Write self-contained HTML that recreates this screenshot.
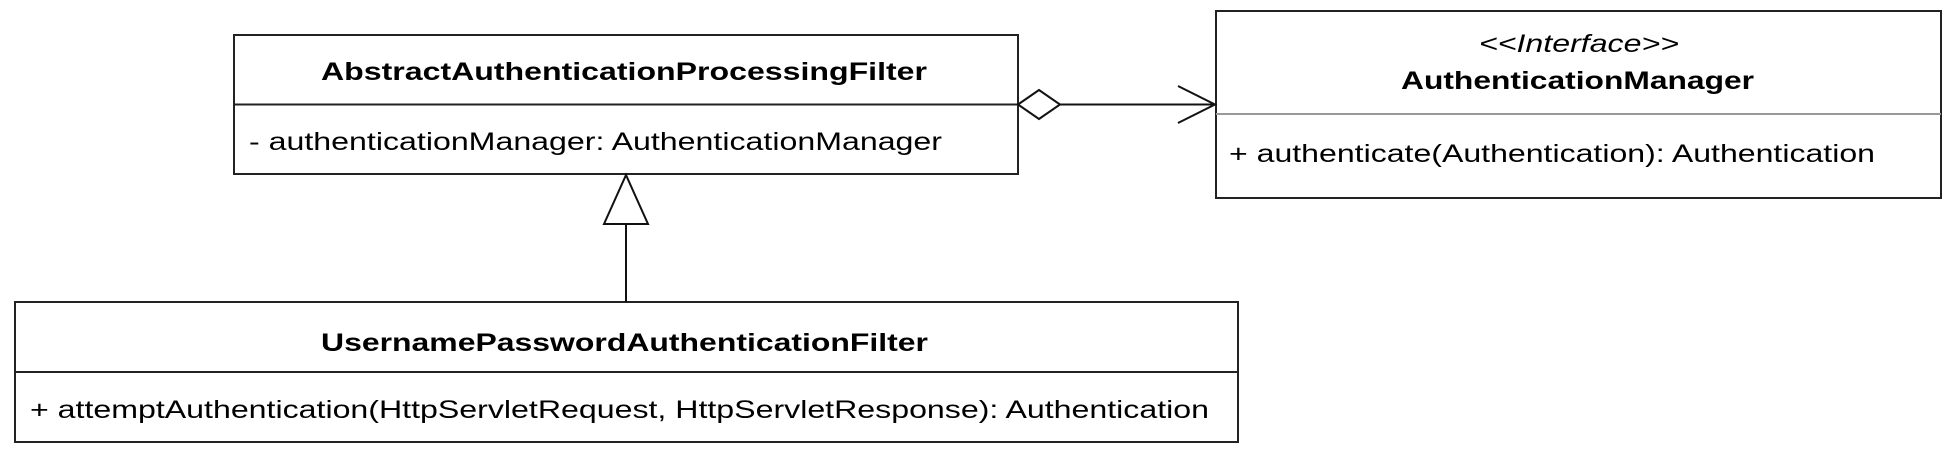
<!DOCTYPE html>
<html><head><style>html,body{margin:0;padding:0;background:#fff}svg{display:block}</style></head><body>
<svg width="1950" height="455" viewBox="0 0 1950 455" xmlns="http://www.w3.org/2000/svg" font-family="Liberation Sans, Arial, sans-serif">
<g fill="#fff" stroke="#222" stroke-width="2">
<rect x="234" y="35" width="784" height="139"/>
<rect x="1216" y="11" width="725" height="187"/>
<rect x="15" y="302" width="1223" height="140"/>
</g>
<line x1="234" y1="104.5" x2="1018" y2="104.5" stroke="#222" stroke-width="2"/>
<line x1="1216" y1="114" x2="1941" y2="114" stroke="#999" stroke-width="2"/>
<line x1="15" y1="372" x2="1238" y2="372" stroke="#222" stroke-width="2"/>
<g stroke="#111" stroke-width="2" fill="none">
<line x1="1060" y1="104.5" x2="1215" y2="104.5"/>
<polyline points="1178,86 1215,104.5 1178,123"/>
<polygon points="1018,104.5 1039,90 1060,104.5 1039,119" fill="#fff"/>
<line x1="626" y1="224" x2="626" y2="302"/>
<polygon points="626,175 604,224 648,224" fill="#fff"/>
</g>
<g fill="#000" font-size="25">
<text x="321" y="80" font-weight="bold" textLength="606" lengthAdjust="spacingAndGlyphs">AbstractAuthenticationProcessingFilter</text>
<text x="249" y="150" textLength="693" lengthAdjust="spacingAndGlyphs">- authenticationManager: AuthenticationManager</text>
<text x="1479" y="52" font-style="italic" textLength="200" lengthAdjust="spacingAndGlyphs">&lt;&lt;Interface&gt;&gt;</text>
<text x="1401" y="89" font-weight="bold" textLength="353" lengthAdjust="spacingAndGlyphs">AuthenticationManager</text>
<text x="1229" y="162" textLength="646" lengthAdjust="spacingAndGlyphs">+ authenticate(Authentication): Authentication</text>
<text x="321" y="351" font-weight="bold" textLength="607" lengthAdjust="spacingAndGlyphs">UsernamePasswordAuthenticationFilter</text>
<text x="30" y="418" textLength="1179" lengthAdjust="spacingAndGlyphs">+ attemptAuthentication(HttpServletRequest, HttpServletResponse): Authentication</text>
</g>
</svg>
</body></html>
